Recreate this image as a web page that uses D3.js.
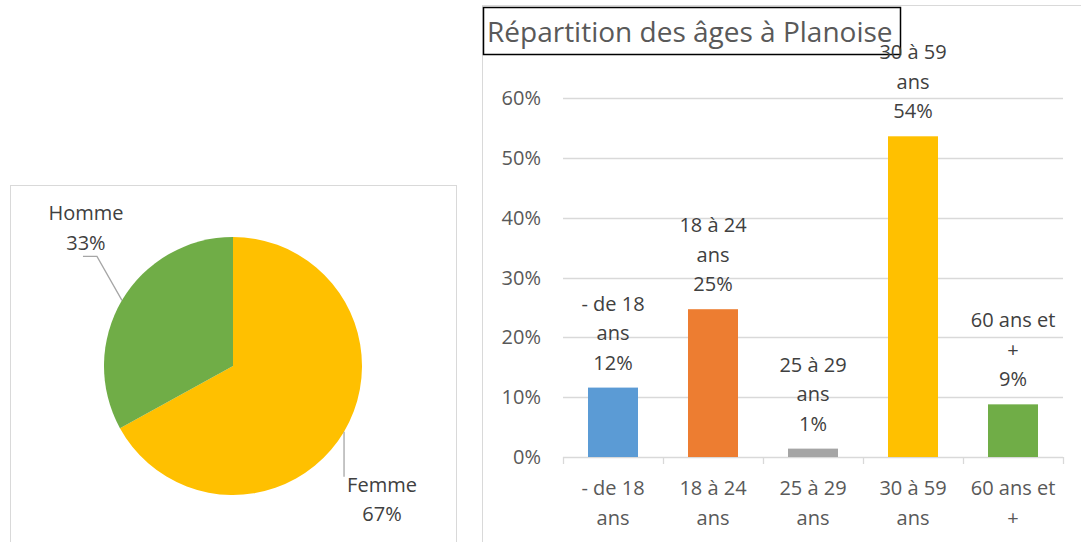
<!DOCTYPE html>
<html>
<head>
<meta charset="utf-8">
<script src="https://cdn.jsdelivr.net/npm/d3@7"></script>
<style>
  body { margin: 0; background: #fff; }
  svg text { font-family: "Open Sans", sans-serif; }
</style>
</head>
<body>
<script>
const width = 1081;
const height = 542;

// pie data
const sexes = ["Femme", "Homme"];
const sexShares = [0.67, 0.33];
const sexColors = ["#ffc000", "#70ad47"];

// bar data
const ageGroups = ["- de 18 ans", "18 à 24 ans", "25 à 29 ans", "30 à 59 ans", "60 ans et +"];
const ageLines = [["- de 18", "ans"], ["18 à 24", "ans"], ["25 à 29", "ans"], ["30 à 59", "ans"], ["60 ans et", "+"]];
const ageShares = [0.116, 0.247, 0.014, 0.536, 0.088];
const ageColors = ["#5b9bd5", "#ed7d31", "#a5a5a5", "#ffc000", "#70ad47"];
const yTicks = [0, 0.1, 0.2, 0.3, 0.4, 0.5, 0.6];
const chartTitle = "Répartition des âges à Planoise";

const svg = d3.select("body")
    .append("svg")
    .attr("width", width)
    .attr("height", height);

const pct = d3.format(".0%");

// ---------- pie ----------
const pieG = svg.append("g");

pieG.append("rect")
    .attr("x", 10.5).attr("y", 185.5)
    .attr("width", 446).attr("height", 400)
    .attr("fill", "#fff")
    .attr("stroke", "#d9d9d9");

const cx = 233, cy = 366, r = 129;
const pie = d3.pie().sort(null).value(d => d.v);
const arcs = pie(sexes.map((s, i) => ({ name: s, v: sexShares[i], color: sexColors[i] })));
const arc = d3.arc().innerRadius(0).outerRadius(r);

const slices = pieG.append("g").attr("transform", `translate(${cx},${cy})`);
slices.selectAll("path")
    .data(arcs)
    .enter()
    .append("path")
    .attr("d", arc)
    .attr("fill", d => d.data.color);

// leader lines + labels
function edgePoint(d) {
    const a = (d.startAngle + d.endAngle) / 2;
    return [cx + r * Math.sin(a), cy - r * Math.cos(a)];
}

arcs.forEach(d => {
    const [ex, ey] = edgePoint(d);
    let pts, lx, ly;
    if (d.data.name === "Homme") {
        pts = [[ex, ey], [ex - 25, ey - 44], [ex - 39, ey - 44]];
        lx = ex - 36; ly = ey - 80;
    } else {
        pts = [[ex, ey], [ex, ey + 45]];
        lx = ex + 38; ly = ey + 60;
    }
    pieG.append("path")
        .attr("d", d3.line()(pts))
        .attr("fill", "none")
        .attr("stroke", "#a6a6a6")
        .attr("stroke-width", 1.3);
    const t = pieG.append("text")
        .attr("text-anchor", "middle")
        .attr("fill", "#404040")
        .attr("font-size", 20);
    t.append("tspan").attr("x", lx).attr("y", ly).text(d.data.name);
    t.append("tspan").attr("x", lx).attr("y", ly + 29.5).text(pct(d.data.v));
});

// ---------- bars ----------
const barG = svg.append("g");

barG.append("rect")
    .attr("x", 482.5).attr("y", 5.5)
    .attr("width", 620).attr("height", 560)
    .attr("fill", "#fff")
    .attr("stroke", "#d9d9d9");

const x = d3.scaleBand()
    .domain(ageGroups)
    .range([563, 1063])
    .paddingInner(0.5)
    .paddingOuter(0.25);

const y = d3.scaleLinear()
    .domain([0, 0.6])
    .range([457, 98]);

barG.selectAll(".grid")
    .data(yTicks)
    .enter()
    .append("line")
    .attr("x1", 563).attr("x2", 1063)
    .attr("y1", d => Math.round(y(d)) + 0.5)
    .attr("y2", d => Math.round(y(d)) + 0.5)
    .attr("stroke", "#d9d9d9")
    .attr("stroke-width", 1.3);

barG.selectAll(".ylab")
    .data(yTicks)
    .enter()
    .append("text")
    .attr("x", 541)
    .attr("y", d => y(d) + 7)
    .attr("text-anchor", "end")
    .attr("fill", "#595959")
    .attr("font-size", 20)
    .text(d => pct(d));

// category tick marks
const step = x.step();
barG.selectAll(".tick")
    .data(d3.range(ageGroups.length + 1))
    .enter()
    .append("line")
    .attr("x1", i => 563 + i * step + 0.5)
    .attr("x2", i => 563 + i * step + 0.5)
    .attr("y1", y(0))
    .attr("y2", y(0) + 7)
    .attr("stroke", "#d9d9d9")
    .attr("stroke-width", 1.3);

barG.selectAll(".bar")
    .data(ageGroups)
    .enter()
    .append("rect")
    .attr("x", d => x(d))
    .attr("width", x.bandwidth())
    .attr("y", (d, i) => y(ageShares[i]))
    .attr("height", (d, i) => y(0) - y(ageShares[i]))
    .attr("fill", (d, i) => ageColors[i]);

// x labels
ageGroups.forEach((g, i) => {
    const t = barG.append("text")
        .attr("text-anchor", "middle")
        .attr("fill", "#595959")
        .attr("font-size", 20);
    ageLines[i].forEach((ln, j) => {
        t.append("tspan")
            .attr("x", x(g) + x.bandwidth() / 2)
            .attr("y", 495 + j * 29.5)
            .text(ln);
    });
});

// title box
barG.append("rect")
    .attr("x", 483.5).attr("y", 7.5)
    .attr("width", 417).attr("height", 47)
    .attr("fill", "#fff")
    .attr("stroke", "#000")
    .attr("stroke-width", 1.5);

barG.append("text")
    .attr("x", 487)
    .attr("y", 42)
    .attr("fill", "#595959")
    .attr("font-size", 28)
    .text(chartTitle);

// data labels
ageGroups.forEach((g, i) => {
    const lines = ageLines[i].concat([pct(ageShares[i])]);
    const top = y(ageShares[i]);
    const t = barG.append("text")
        .attr("text-anchor", "middle")
        .attr("fill", "#404040")
        .attr("font-size", 20);
    lines.forEach((ln, j) => {
        t.append("tspan")
            .attr("x", x(g) + x.bandwidth() / 2)
            .attr("y", top - 18 - (lines.length - 1 - j) * 29.5)
            .text(ln);
    });
});
</script>
</body>
</html>
